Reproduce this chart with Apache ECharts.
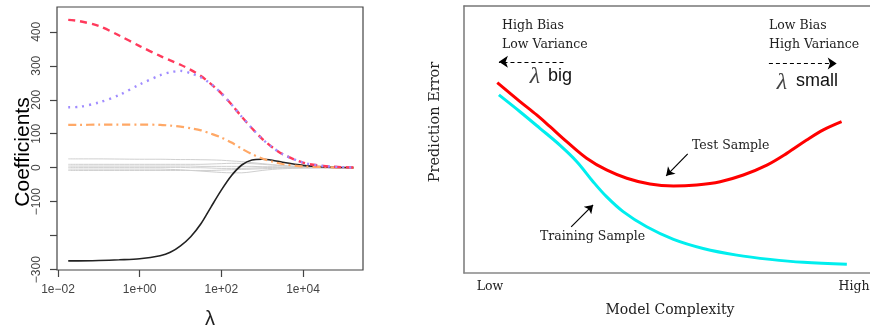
<!DOCTYPE html>
<html>
<head>
<meta charset="utf-8">
<script src="https://cdn.jsdelivr.net/npm/echarts@6/dist/echarts.min.js"></script>
<style>html,body{margin:0;padding:0;background:#fff;}#c{width:870px;height:328px;}</style>
</head>
<body>
<div id="c"></div>
<script>
// ---------- Left panel: ridge coefficient paths (x = log10(lambda)) ----------
const logLambda = [-1.75,-1.5,-1,-0.5,0,0.5,0.75,1,1.25,1.5,1.75,2,2.25,2.5,2.75,3,3.25,3.5,4,4.5,5,5.24];
const coefRed    = [435,432,417,389,358,329,316,303,288,270,246,219,186,150,116,85,60,40,15,5,1.5,0.5];
const coefPurple = [178,179,192,214,245,272,281,285,278,266,246,219,186,150,116,85,60,40,15,5,1.5,0.5];
const coefOrange = [126,126,127,127,127,126,124,121,116,110,100,89,74,56,40,27,18,11,4,2,0.5,0.2];
const coefBlack  = [-274,-274,-273,-271,-268,-259,-249,-230,-203,-165,-115,-66,-23,8,23,25,22,16,7,2.5,0.5,0.2];
const coefGray = [
  [26,26,26,25.5,25,25,24.5,24,24,23.5,23,22,20,18,15,12,9,6,3,1,0.3,0.1],
  [10,10,10,10,10,10,10,10,10,10,11,12,13,13,12,10,8,6,3,1,0.3,0.1],
  [5,5,5,5,5,5,5,5,5,4,4,4,4,4,4,3,3,2,1,0.5,0.2,0.1],
  [1,1,1,1,1,1,1,1,0,0,-1,-2,-2,-2,-1,0,1,1,0.5,0.2,0.1,0],
  [-4,-4,-4,-4,-4,-4,-5,-6,-8,-10,-12,-14,-15,-15,-12,-8,-5,-3,-1,-0.5,-0.2,0],
  [-8,-8,-8,-8,-8,-8,-8,-8,-8,-8,-8,-7,-6,-5,-4,-3,-2,-1,-0.5,-0.2,0,0]
];
const xTickLog = [-2,0,2,4];
const yTicks = [-300,-200,-100,0,100,200,300,400];
const yTickLabels = [-300,-100,0,100,200,300,400];

// ---------- Right panel: prediction error vs model complexity ----------
const testX  = [8.2,13.8,17.9,21.2,25.3,30.2,35.1,40.1,45.8,51.6,57.3,63.1,68.8,74.6,79.5,84.4,88.5,93.0];
const testY  = [71.3,64.2,59.2,54.8,49.2,43.0,38.6,35.5,33.3,32.6,33.0,34.2,36.7,40.4,44.8,49.8,53.6,56.7];
const trainX = [8.6,13.8,18.7,23.6,27.8,31.8,35.1,39.2,45.0,51.6,58.9,67.2,75.4,83.6,94.3];
const trainY = [66.7,60.4,54.2,47.9,41.7,34.2,28.6,23.0,17.3,12.6,9.2,6.7,5.1,4.0,3.3];
// annotation arrows [from, to] in right-panel data units
const arrowBig   = [[24.5,79.1],[8.6,79.1]];
const arrowSmall = [[75.1,78.5],[91.8,78.5]];
const arrowTest  = [[55.1,44.6],[49.8,36.4]];
const arrowTrain = [[26.4,17.3],[31.8,25.5]];

const zip = (xs, ys) => xs.map((x, i) => [x, ys[i]]);
const minus = '\u2212';
const fmtLam = v => '1e' + (v < 0 ? minus : '+') + String(Math.abs(v)).padStart(2, '0');
const fmtY = v => (v < 0 ? minus + Math.abs(v) : String(v));

const serif = '"DejaVu Serif", serif';
const sans = '"Liberation Sans", Arial, sans-serif';

const leftLine = (data, color, width, type, z) => ({
  type: 'line', xAxisIndex: 0, yAxisIndex: 0, data, smooth: 0.3, symbol: 'none',
  lineStyle: { color, width, type }, z: z || 2, silent: true
});

const series = [];
coefGray.forEach(g => series.push(leftLine(zip(logLambda, g), '#cfcfcf', 1, 'solid', 1)));
series.push(leftLine(zip(logLambda, coefBlack), '#222222', 1.6, 'solid', 3));
series.push(leftLine(zip(logLambda, coefOrange), '#ffa866', 2.2, [8, 4, 2, 4], 3));
series.push(leftLine(zip(logLambda, coefRed), '#ff3a5c', 2.4, [7, 5], 3));
series.push(leftLine(zip(logLambda, coefPurple), '#a08cff', 2.4, [2, 5], 4));

series.push({ type: 'line', xAxisIndex: 1, yAxisIndex: 1, data: zip(testX, testY), smooth: 0.35,
  symbol: 'none', lineStyle: { color: '#ff0000', width: 3 }, silent: true });
series.push({ type: 'line', xAxisIndex: 1, yAxisIndex: 1, data: zip(trainX, trainY), smooth: 0.35,
  symbol: 'none', lineStyle: { color: '#00eeee', width: 3 }, silent: true });

const arrowSeries = (pts, dashed) => ({
  type: 'lines', coordinateSystem: 'cartesian2d', xAxisIndex: 1, yAxisIndex: 1,
  data: [{ coords: pts }], symbol: ['none', 'arrow'], symbolSize: dashed ? 9 : 8,
  lineStyle: { color: '#000', width: 1.2, type: dashed ? [4, 3] : 'solid', opacity: 1 },
  silent: true, z: 5
});
series.push(arrowSeries(arrowBig, true));
series.push(arrowSeries(arrowSmall, true));
series.push(arrowSeries(arrowTest, false));
series.push(arrowSeries(arrowTrain, false));

const txt = (text, x, y, font, opts) => Object.assign({
  type: 'text', x, y,
  style: { text, font, fill: '#222', align: 'left', verticalAlign: 'middle' }
}, opts || {});

const option = {
  animation: false,
  backgroundColor: '#fff',
  grid: [
    { left: 57, top: 7, width: 306, height: 263, show: true, borderColor: '#444', borderWidth: 1.2, backgroundColor: 'transparent' },
    { left: 464, top: 6, width: 406, height: 267, show: false }
  ],
  xAxis: [
    { type: 'value', gridIndex: 0, min: -2.025, max: 5.47,
      axisLine: { show: false, onZero: false }, splitLine: { show: false },
      axisTick: { show: true, inside: false, length: 7, customValues: xTickLog, lineStyle: { color: '#444', width: 1.2 } },
      axisLabel: { customValues: xTickLog, formatter: fmtLam, margin: 14, fontFamily: sans, fontSize: 12, color: '#444' } },
    { type: 'value', gridIndex: 1, min: 0, max: 100, position: 'bottom',
      axisLine: { show: true, onZero: false, lineStyle: { color: '#888', width: 1.5 } },
      axisTick: { show: false }, axisLabel: { show: false }, splitLine: { show: false } },
    { type: 'value', gridIndex: 1, min: 0, max: 100, position: 'top',
      axisLine: { show: true, onZero: false, lineStyle: { color: '#777', width: 1.5 } },
      axisTick: { show: false }, axisLabel: { show: false }, splitLine: { show: false } }
  ],
  yAxis: [
    { type: 'value', gridIndex: 0, min: -301, max: 473,
      axisLine: { show: false, onZero: false }, splitLine: { show: false },
      axisTick: { show: true, inside: false, length: 7, customValues: yTicks, lineStyle: { color: '#444', width: 1.2 } },
      axisLabel: { customValues: yTickLabels, formatter: fmtY, rotate: 90, margin: 14, fontFamily: sans, fontSize: 12, color: '#444' } },
    { type: 'value', gridIndex: 1, min: 0, max: 100,
      axisLine: { show: true, onZero: false, lineStyle: { color: '#777', width: 1.5 } },
      axisTick: { show: false }, axisLabel: { show: false }, splitLine: { show: false } }
  ],
  series,
  graphic: [
    txt('Coefficients', 23, 152, '21px ' + sans, { rotation: Math.PI / 2, style: { text: 'Coefficients', font: '21px ' + sans, fill: '#000', align: 'center', verticalAlign: 'middle' } }),
    txt('\u03bb', 210, 319, '20px ' + sans, { style: { text: '\u03bb', font: '20px ' + sans, fill: '#222', align: 'center', verticalAlign: 'middle' } }),
    txt('High Bias', 502, 26, '12.5px ' + serif),
    txt('Low Variance', 502, 44.5, '12.5px ' + serif),
    txt('Low Bias', 769, 26, '12.5px ' + serif),
    txt('High Variance', 769, 44.5, '12.5px ' + serif),
    txt('\u03bb', 535, 77, 'italic 24px "Liberation Serif", serif', { style: { text: '\u03bb', font: 'italic 24px "Liberation Serif", serif', fill: '#444', align: 'center', verticalAlign: 'middle' } }),
    txt('big', 548, 76, '18px ' + sans, { style: { text: 'big', font: '18px ' + sans, fill: '#111', align: 'left', verticalAlign: 'middle' } }),
    txt('\u03bb', 782, 83, 'italic 24px "Liberation Serif", serif', { style: { text: '\u03bb', font: 'italic 24px "Liberation Serif", serif', fill: '#444', align: 'center', verticalAlign: 'middle' } }),
    txt('small', 796, 81.5, '18px ' + sans, { style: { text: 'small', font: '18px ' + sans, fill: '#111', align: 'left', verticalAlign: 'middle' } }),
    txt('Test Sample', 692, 146, '12.5px ' + serif),
    txt('Training Sample', 540, 237, '12.5px ' + serif),
    txt('Prediction Error', 435, 122, '14.5px ' + serif, { rotation: Math.PI / 2, style: { text: 'Prediction Error', font: '14.5px ' + serif, fill: '#222', align: 'center', verticalAlign: 'middle' } }),
    txt('Model Complexity', 670, 310, '14px ' + serif, { style: { text: 'Model Complexity', font: '14px ' + serif, fill: '#222', align: 'center', verticalAlign: 'middle' } }),
    txt('Low', 490, 287, '12.5px ' + serif, { style: { text: 'Low', font: '12.5px ' + serif, fill: '#222', align: 'center', verticalAlign: 'middle' } }),
    txt('High', 854, 287, '12.5px ' + serif, { style: { text: 'High', font: '12.5px ' + serif, fill: '#222', align: 'center', verticalAlign: 'middle' } })
  ]
};

const chart = echarts.init(document.getElementById('c'), null, { renderer: 'canvas' });
chart.setOption(option);
</script>
</body>
</html>
